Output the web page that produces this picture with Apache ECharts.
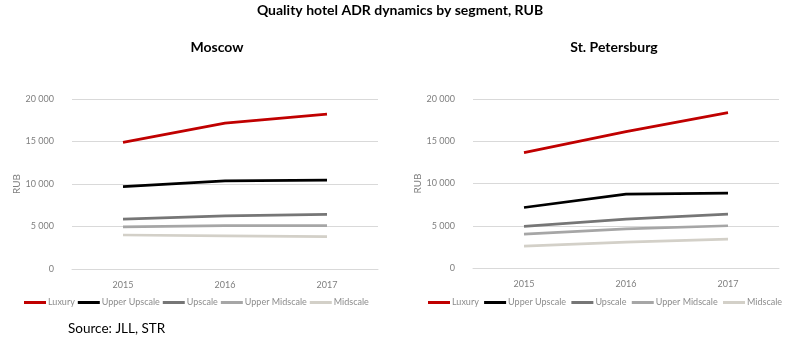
<!DOCTYPE html>
<html><head><meta charset="utf-8">
<script src="https://cdn.jsdelivr.net/npm/echarts@6/dist/echarts.min.js"></script>
<style>html,body{margin:0;padding:0;background:#fff}#c{width:800px;height:352px}</style>
</head><body><div id="c"></div>
<script>
const categories = ['2015', '2016', '2017'];
const seriesNames = ['Luxury', 'Upper Upscale', 'Upscale', 'Upper Midscale', 'Midscale'];
const moscowLuxury = [14900, 17150, 18230];
const moscowUpperUpscale = [9700, 10380, 10450];
const moscowUpscale = [5880, 6240, 6430];
const moscowUpperMidscale = [4950, 5100, 5100];
const moscowMidscale = [4000, 3900, 3800];
const spbLuxury = [13660, 16140, 18380];
const spbUpperUpscale = [7160, 8740, 8860];
const spbUpscale = [4920, 5790, 6380];
const spbUpperMidscale = [4010, 4640, 5000];
const spbMidscale = [2600, 3070, 3430];
const yTicks = [0, 5000, 10000, 15000, 20000];

const colors = ['#c00000', '#000000', '#767676', '#a6a6a6', '#d3d0c8'];
const FONT = 'Lato, "Open Sans", sans-serif';
const moscow = [moscowLuxury, moscowUpperUpscale, moscowUpscale, moscowUpperMidscale, moscowMidscale];
const spb = [spbLuxury, spbUpperUpscale, spbUpscale, spbUpperMidscale, spbMidscale];

function fmt(v){ return v === 0 ? '0' : String(v).replace(/\B(?=(\d{3})+(?!\d))/g, ' '); }

function yAx(gi){ return {
  type:'value', gridIndex:gi, min:yTicks[0], max:yTicks[yTicks.length-1], interval:5000,
  name:'RUB', nameLocation:'middle', nameGap:gi ? 40 : 34, nameRotate:90,
  nameTextStyle:{color:'#7f7f7f', fontSize:10, fontFamily:FONT},
  axisLine:{show:false}, axisTick:{show:false},
  axisLabel:{color:'#7f7f7f', fontSize:9, fontFamily:FONT, formatter:fmt, margin:18},
  splitLine:{lineStyle:{color:'#d9d9d9', width:1}}
};}
function xAx(gi){ return {
  type:'category', gridIndex:gi, data:categories, boundaryGap:true,
  axisLine:{lineStyle:{color:'#d9d9d9'}}, axisTick:{show:false},
  axisLabel:{color:'#7f7f7f', fontSize:9, fontFamily:FONT, margin:12}
};}

const series = [];
[moscow, spb].forEach((set, gi) => {
  set.forEach((d, i) => {
    series.push({
      name: seriesNames[i] + (gi ? ' ' : ''), type:'line', xAxisIndex:gi, yAxisIndex:gi,
      data:d, symbol:'none', lineStyle:{color:colors[i], width:2.75}, itemStyle:{color:colors[i]},
      z: 10 - i
    });
  });
});

function legend(gi, left){ return {
  left:left, top:298, width:400, padding:0, itemWidth:22, itemHeight:3, itemGap:3, icon:'rect',
  data: seriesNames.map(n => n + (gi ? ' ' : '')),
  textStyle:{color:'#8c8c8c', fontSize:9, fontFamily:FONT, padding:[0,0,0,-3]},
  selectedMode:false
};}

const chart = echarts.init(document.getElementById('c'), null, {renderer:'canvas'});
chart.setOption({
  animation:false,
  title:[
    {text:'Quality hotel ADR dynamics by segment, RUB', left:'center', top:3, padding:0,
     textStyle:{fontSize:14, fontWeight:'bold', color:'#000', fontFamily:FONT}},
    {text:'Moscow', left:217, textAlign:'center', top:40, padding:0,
     textStyle:{fontSize:14, fontWeight:'bold', color:'#000', fontFamily:FONT}},
    {text:'St. Petersburg', left:614, textAlign:'center', top:40, padding:0,
     textStyle:{fontSize:14, fontWeight:'bold', color:'#000', fontFamily:FONT}},
    {text:'Source: JLL, STR', left:68, top:322, padding:0,
     textStyle:{fontSize:13.5, fontWeight:'normal', color:'#000', fontFamily:FONT}}
  ],
  grid:[
    {left:72, width:306, top:99, height:170},
    {left:473, width:306, top:99, height:169}
  ],
  xAxis:[xAx(0), xAx(1)],
  yAxis:[yAx(0), yAx(1)],
  legend:[legend(0, 24), legend(1, 428)],
  series:series
});
</script></body></html>
